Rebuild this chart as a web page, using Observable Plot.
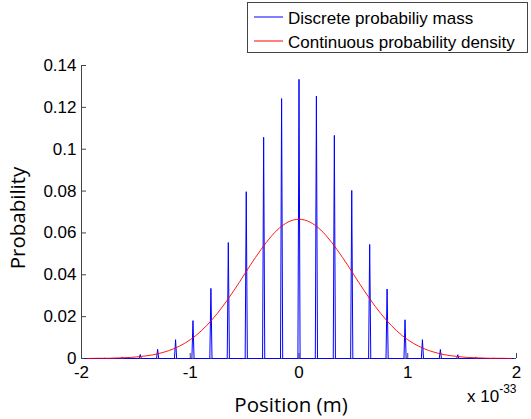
<!DOCTYPE html>
<html><head><meta charset="utf-8">
<script src="https://cdn.jsdelivr.net/npm/d3@7"></script>
<script src="https://cdn.jsdelivr.net/npm/@observablehq/plot@0.6"></script>
<style>
body{margin:0;background:#fff;}
#wrap{position:relative;width:531px;height:419px;}
</style></head><body><div id="wrap"></div>
<script>
// Discrete probability mass: spike positions (x 10^-33 m) and heights
const spikeX = [-1.79,-1.625,-1.46,-1.30,-1.135,-0.975,-0.81,-0.65,-0.485,-0.325,-0.16,0,0.16,0.325,0.485,0.65,0.81,0.975,1.135,1.30,1.46,1.625,1.79];
const spikeP = [0.0001,0.0005,0.0019,0.0044,0.0090,0.0181,0.0335,0.0554,0.0797,0.1057,0.1242,0.1334,0.1254,0.1066,0.0803,0.0545,0.0332,0.0185,0.0090,0.0043,0.0018,0.0005,0.0001];
// Continuous probability density samples
const densityX = [-1.95,-1.85,-1.75,-1.65,-1.55,-1.45,-1.35,-1.25,-1.15,-1.05,-0.95,-0.85,-0.75,-0.65,-0.55,-0.45,-0.35,-0.25,-0.15,-0.05,0.05,0.15,0.25,0.35,0.45,0.55,0.65,0.75,0.85,0.95,1.05,1.15,1.25,1.35,1.45,1.55,1.65,1.75,1.85,1.95];
const densityP = [0.0000,0.0001,0.0001,0.0003,0.0005,0.0010,0.0017,0.0029,0.0047,0.0073,0.0109,0.0157,0.0216,0.0286,0.0363,0.0444,0.0520,0.0587,0.0636,0.0662,0.0662,0.0636,0.0587,0.0520,0.0444,0.0363,0.0286,0.0216,0.0157,0.0109,0.0073,0.0047,0.0029,0.0017,0.0010,0.0005,0.0003,0.0001,0.0001,0.0000];
const xTicks = [-2,-1,0,1,2];
const yTicks = [0,0.02,0.04,0.06,0.08,0.1,0.12,0.14];
const xRange = [-1.97, 1.97];
const spikeHalfWidth = 0.01;

const massLine = [{x: xRange[0], y: 0}];
spikeX.forEach((x, i) => {
  massLine.push({x: x - spikeHalfWidth, y: 0}, {x: x, y: spikeP[i]}, {x: x + spikeHalfWidth, y: 0});
});
massLine.push({x: xRange[1], y: 0});
const density = densityX.map((x, i) => ({x, y: densityP[i]}));

const W = 531, H = 419, mL = 81, mR = 15, mT = 65, mB = 61;
const plotH = H - mT - mB, plotW = W - mL - mR;
const axisColor = "#444";

const chart = Plot.plot({
  width: W, height: H, marginLeft: mL, marginRight: mR, marginTop: mT, marginBottom: mB,
  x: {domain: [-2, 2]},
  y: {domain: [0, 0.14]},
  style: {fontSize: "17px", fontFamily: "'Liberation Sans', Arial, sans-serif", color: "black", background: "white", overflow: "visible"},
  marks: [
    Plot.axisX(xTicks, {tickSize: 0, tickPadding: 7, tickFormat: d => String(d), label: null, fontSize: 17}),
    Plot.axisY(yTicks, {tickSize: 0, tickPadding: 5, tickFormat: d => String(d), label: null, fontSize: 17}),
    Plot.ruleX(xTicks, {x: d => d, insetTop: plotH - 5, stroke: axisColor}),
    Plot.ruleY(yTicks, {y: d => d, insetRight: plotW - 5, stroke: axisColor}),
    Plot.ruleX([-2], {stroke: axisColor}),
    Plot.ruleY([0], {stroke: axisColor}),
    Plot.line(massLine, {x: "x", y: "y", stroke: "#0000ff", strokeWidth: 1}),
    Plot.line(density, {x: "x", y: "y", stroke: "#ff0000", strokeWidth: 0.9, curve: "catmull-rom"})
  ]
});
document.getElementById("wrap").appendChild(chart);

const svg = d3.select(chart);
const g = svg.append("g").attr("font-family", "'Liberation Sans', Arial, sans-serif").attr("fill", "black").attr("text-anchor", "start");
// Axis titles
g.append("text").attr("x", 291).attr("y", 412).attr("text-anchor", "middle")
  .attr("font-family", "'Open Sans', sans-serif").attr("font-size", 20.5).text("Position (m)");
g.append("text").attr("transform", "translate(25,218) rotate(-90)").attr("text-anchor", "middle")
  .attr("font-family", "'Open Sans', sans-serif").attr("font-size", 20.5).text("Probability");
// Exponent
const ex = g.append("text").attr("x", 467).attr("y", 402).attr("font-size", 17).attr("text-anchor", "start");
ex.append("tspan").text("x 10");
ex.append("tspan").attr("dy", -9).attr("font-size", 12).text("-33");
// Legend
const lg = g.append("g");
lg.append("rect").attr("x", 247.5).attr("y", 2.5).attr("width", 280).attr("height", 50)
  .attr("fill", "white").attr("stroke", axisColor);
lg.append("line").attr("x1", 254).attr("x2", 283).attr("y1", 17).attr("y2", 17).attr("stroke", "#0000ff");
lg.append("line").attr("x1", 254).attr("x2", 283).attr("y1", 41).attr("y2", 41).attr("stroke", "#ff0000");
lg.append("text").attr("x", 288).attr("y", 24).attr("font-size", 17).attr("text-anchor", "start").text("Discrete probabiliy mass");
lg.append("text").attr("x", 288).attr("y", 48).attr("font-size", 17).attr("text-anchor", "start").text("Continuous probability density");
</script></body></html>
